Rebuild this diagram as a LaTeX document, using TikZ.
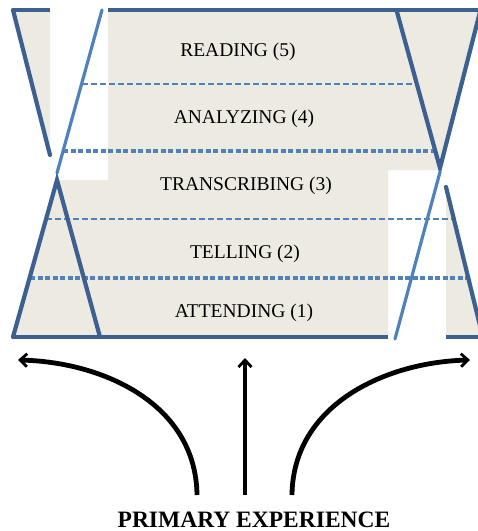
\documentclass[tikz,border=0pt]{standalone}
\usepackage{fontspec}
\setmainfont{Liberation Serif}
\usetikzlibrary{arrows.meta}
\definecolor{beige}{HTML}{EDEBE1}
\definecolor{darkblue}{HTML}{3C6191}
\definecolor{lightblue}{HTML}{4F81BD}
\tikzset{
  darkline/.style={draw=darkblue,line width=4.2pt,line cap=round,line join=miter},
  barline/.style={draw=darkblue,line width=3.6pt},
  lightline/.style={draw=lightblue,line width=3.2pt,line cap=round},
  thindash/.style={draw=lightblue,line width=1.7pt,dash pattern=on 6pt off 3pt},
  thickdash/.style={draw=lightblue,line width=3.2pt,dash pattern=on 5pt off 2.5pt},
  layerlabel/.style={anchor=base,inner sep=0pt,font=\fontsize{19.5}{22}\selectfont},
  bigarrow/.style={line width=4.8pt,-{Straight Barb[length=7pt,width=13pt,line width=2.8pt]}},
}
\begin{document}
\begin{tikzpicture}[x=1pt,y=-1pt]
\useasboundingbox (0,0) rectangle (478,531);
\begin{scope}
\clip (0,0) rectangle (478,531);
% beige fills
\fill[beige] (13,10) -- (50,10) -- (50,155) -- cycle;
\fill[beige] (108,10) -- (481,10) -- (440,168) -- (440,170) -- (388,170) -- (388,338) -- (108,338) -- cycle;
\fill[beige] (57,180) -- (108,180) -- (108,338) -- (13,338) -- cycle;
\fill[beige] (446,187) -- (483,338) -- (446,338) -- cycle;
% dashed layer lines
\draw[thindash] (82,84) -- (417,84);
\draw[thickdash] (63,151) -- (435,151);
\draw[thindash] (46,219) -- (454,219);
\draw[thickdash] (30,278) -- (467,278);
% bars
\draw[barline] (13,10) -- (50,10);
\draw[barline] (108,10) -- (478,10);
\draw[barline] (13,337) -- (388,337);
\draw[barline] (446,337) -- (478,337);
% slanted lines
\draw[darkline] (13,10) -- (50,155);
\draw[lightline] (102,10) -- (57,173);
\draw[darkline] (397,12) -- (440,168) -- (481,8);
\draw[darkline] (13,337) -- (57,180) -- (100,337);
\draw[lightline] (440,172) -- (395,339);
\draw[darkline] (446,187) -- (483,338);
\end{scope}
% labels
\node[layerlabel] (l5) at (238,56) {READING (5)};
\node[layerlabel] (l4) at (244,123) {ANALYZING (4)};
\node[layerlabel] (l3) at (246,190) {TRANSCRIBING (3)};
\node[layerlabel] (l2) at (245,258) {TELLING (2)};
\node[layerlabel] (l1) at (244,317) {ATTENDING (1)};
\node[anchor=base,inner sep=0pt,font=\fontsize{23.5}{27}\selectfont\bfseries] (pe) at (254,527) {PRIMARY EXPERIENCE};
% arrows
\coordinate (lstart) at (197,495);
\coordinate (ltip) at (18,360);
\coordinate (cstart) at (245,495);
\coordinate (ctip) at (245,358);
\coordinate (rstart) at (292,495);
\coordinate (rtip) at (470,360);
\draw[bigarrow] (lstart) .. controls (196,405) and (105,362) .. (ltip);
\draw[bigarrow] (cstart) -- (ctip);
\draw[bigarrow] (rstart) .. controls (293,405) and (385,362) .. (rtip);
\end{tikzpicture}
\end{document}
